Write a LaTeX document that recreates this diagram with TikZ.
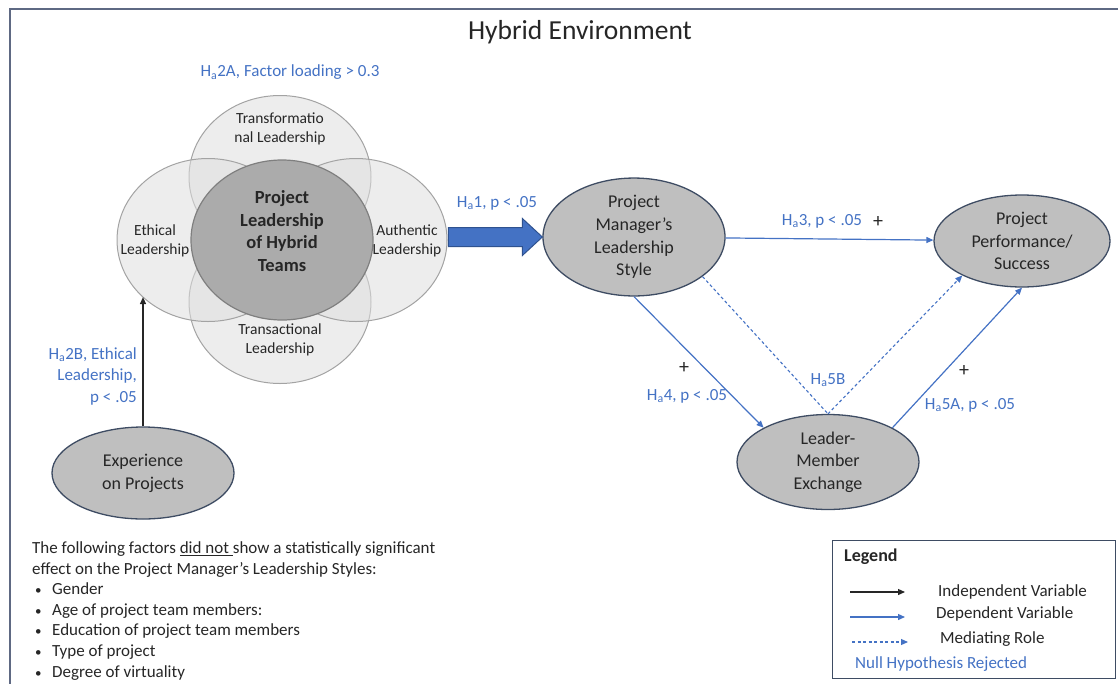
\documentclass[tikz,border=0pt]{standalone}
\usepackage{fontspec}
\setmainfont{Carlito}
\usepackage{xcolor}
\usepackage{tikz}
\usetikzlibrary{calc,arrows.meta,shapes.geometric}
\definecolor{ink}{HTML}{262626}
\definecolor{hblue}{HTML}{4472C4}
\definecolor{hbluedark}{HTML}{2F528F}
\definecolor{framecol}{HTML}{5E6983}
\definecolor{varfill}{HTML}{BFBFBF}
\definecolor{varline}{HTML}{3E4C63}
\definecolor{ringline}{HTML}{A3A3A3}
\definecolor{corefill}{HTML}{ABABAB}
\definecolor{coreline}{HTML}{7F7F7F}
\newcommand{\Hsub}{H\textsubscript{a}}
\tikzset{
  var/.style={ellipse, draw=varline, fill=varfill, line width=1.3pt, minimum width=182pt, minimum height=93pt, inner sep=0pt, align=center, text=ink, font=\fontsize{18}{22.7}\selectfont},
  ring/.style={ellipse, draw=ringline, fill=black!13, fill opacity=0.55, line width=1pt, minimum width=182pt, minimum height=163pt, inner sep=0pt},
  core/.style={ellipse, draw=coreline, fill=corefill, line width=1.2pt, minimum width=182pt, minimum height=160pt, inner sep=0pt},
  ringlab/.style={text=ink, align=center, font=\fontsize{15.5}{19}\selectfont, inner sep=0pt},
  corelab/.style={text=ink, align=center, font=\fontsize{18.5}{22.5}\selectfont\bfseries, inner sep=0pt},
  hyp/.style={text=hblue, font=\fontsize{17}{21.5}\selectfont, inner sep=0pt},
  sign/.style={text=ink, font=\fontsize{20}{20}\selectfont, inner sep=0pt},
  indep/.style={draw=ink, line width=1.2pt, -{Triangle[length=7pt,width=6pt]}},
  dep/.style={draw=hblue, line width=1.2pt, -{Triangle[length=7pt,width=6pt]}},
  medi/.style={draw=hblue, line width=1.1pt, dash pattern=on 3pt off 2.5pt},
  mediarr/.style={medi, -{Triangle[length=7pt,width=6pt]}},
  bigarrow/.style={draw=hbluedark, fill=hblue, line width=1pt, line join=miter},
  legtxt/.style={text=ink, anchor=west, font=\fontsize{17}{20}\selectfont, inner sep=0pt},
}

\begin{document}
\begin{tikzpicture}[x=1pt,y=-1pt]
  \useasboundingbox (0,0) rectangle (1118,683);
  \draw[framecol, line width=2.5pt] (10,700) -- (10,9) -- (1130,9);
  \node[font=\fontsize{27.5}{32}\selectfont, text=ink, inner sep=0pt] (title) at (580,32) {Hybrid Environment};

  \node[ring] (trf) at (280,177) {};
  \node[ring] (trs) at (280,302) {};
  \node[ring] (eth) at (208,240) {};
  \node[ring] (aut) at (356,240) {};
  \node[core] (core) at (282,240) {};
  \node[ringlab] (trflab) at (280,129) {Transformatio\\nal Leadership};
  \node[ringlab] (trslab) at (280,340) {Transactional\\Leadership};
  \node[ringlab] (ethlab) at (155,241) {Ethical\\Leadership};
  \node[ringlab] (autlab) at (407,241) {Authentic\\Leadership};
  \node[corelab] (corelab) at (282,231) {Project\\Leadership\\of Hybrid\\Teams};
  \node[hyp] (h2a) at (290,72) {\Hsub2A, Factor loading > 0.3};

  \node[var] (pm) at (634,237) {Project\\Manager’s\\Leadership\\Style};
  \node[var, minimum width=176pt, minimum height=92pt] (perf) at (1022,241) {Project\\Performance/\\Success};
  \node[var, minimum height=95pt] (lmx) at (828,462) {Leader-\\Member\\Exchange};
  \node[var, minimum height=92pt] (exp) at (143,473) {Experience\\on Projects};

  \draw[bigarrow] ($(pm.west)+(-94,-9.5)$) -- ++(74,0) -- ++(0,-9) -- (pm.west)
    -- ($(pm.west)+(-20,18.5)$) -- ++(0,-9) -- ++(-74,0) -- cycle;
  \node[hyp] (h1) at (497,203) {\Hsub1, p < .05};

  \draw[indep] (exp.north) -- (exp.north |- eth.221);
  \node[hyp, align=right, anchor=east] (h2b) at (137,376) {\Hsub2B, Ethical\\Leadership,\\p < .05};

  \draw[dep] (pm) -- (perf);
  \node[hyp] (h3) at (822,221) {\Hsub3, p < .05};
  \node[sign] (s3) at (878,222) {+};

  \draw[dep] (pm.south) -- (lmx.152);
  \node[sign] (s4) at (684,368) {+};
  \node[hyp] (h4) at (687,396) {\Hsub4, p < .05};

  \draw[medi] (pm.-30) -- (lmx.north);
  \draw[mediarr] (lmx.north) -- (perf.210);
  \node[hyp] (h5b) at (828,380) {\Hsub5B};

  \draw[dep] (lmx.28) -- (perf.south);
  \node[sign] (s5) at (964,371) {+};
  \node[hyp] (h5a) at (970,405) {\Hsub5A, p < .05};

  \node[anchor=north west, align=left, text=ink, font=\fontsize{17}{20.6}\selectfont, inner sep=0pt] (notes) at (32,541.5)
    {The following factors \underline{did not }show a statistically significant\\
     effect on the Project Manager’s Leadership Styles:\\
     \hspace*{3pt}\makebox[17pt][l]{\fontsize{13}{13}\selectfont\textbullet}Gender\\
     \hspace*{3pt}\makebox[17pt][l]{\fontsize{13}{13}\selectfont\textbullet}Age of project team members:\\
     \hspace*{3pt}\makebox[17pt][l]{\fontsize{13}{13}\selectfont\textbullet}Education of project team members\\
     \hspace*{3pt}\makebox[17pt][l]{\fontsize{13}{13}\selectfont\textbullet}Type of project\\
     \hspace*{3pt}\makebox[17pt][l]{\fontsize{13}{13}\selectfont\textbullet}Degree of virtuality};

  \node[draw=varline, line width=1.3pt, minimum width=283pt, minimum height=138pt, anchor=north west, inner sep=0pt] (legend) at (832,540) {};
  \node[text=ink, anchor=west, font=\fontsize{18}{20}\selectfont\bfseries, inner sep=0pt] (legtitle) at (844,557) {Legend};
  \foreach \n/\sty/\xa/\xb/\ya/\xt/\yt/\txt in {ind/indep/850/905/592/938/592/Independent Variable,
      dep/dep/850/905/617/936/614/Dependent Variable,
      med/mediarr/852/908/642/940/639/Mediating Role} {
    \coordinate (\n a) at (\xa,\ya);
    \coordinate (\n b) at (\xb,\ya);
    \draw[\sty] (\n a) -- (\n b);
    \node[legtxt] (\n txt) at (\xt,\yt) {\txt};
  }
  \node[legtxt, text=hblue] (nulltxt) at (855,664) {Null Hypothesis Rejected};
\end{tikzpicture}
\end{document}
